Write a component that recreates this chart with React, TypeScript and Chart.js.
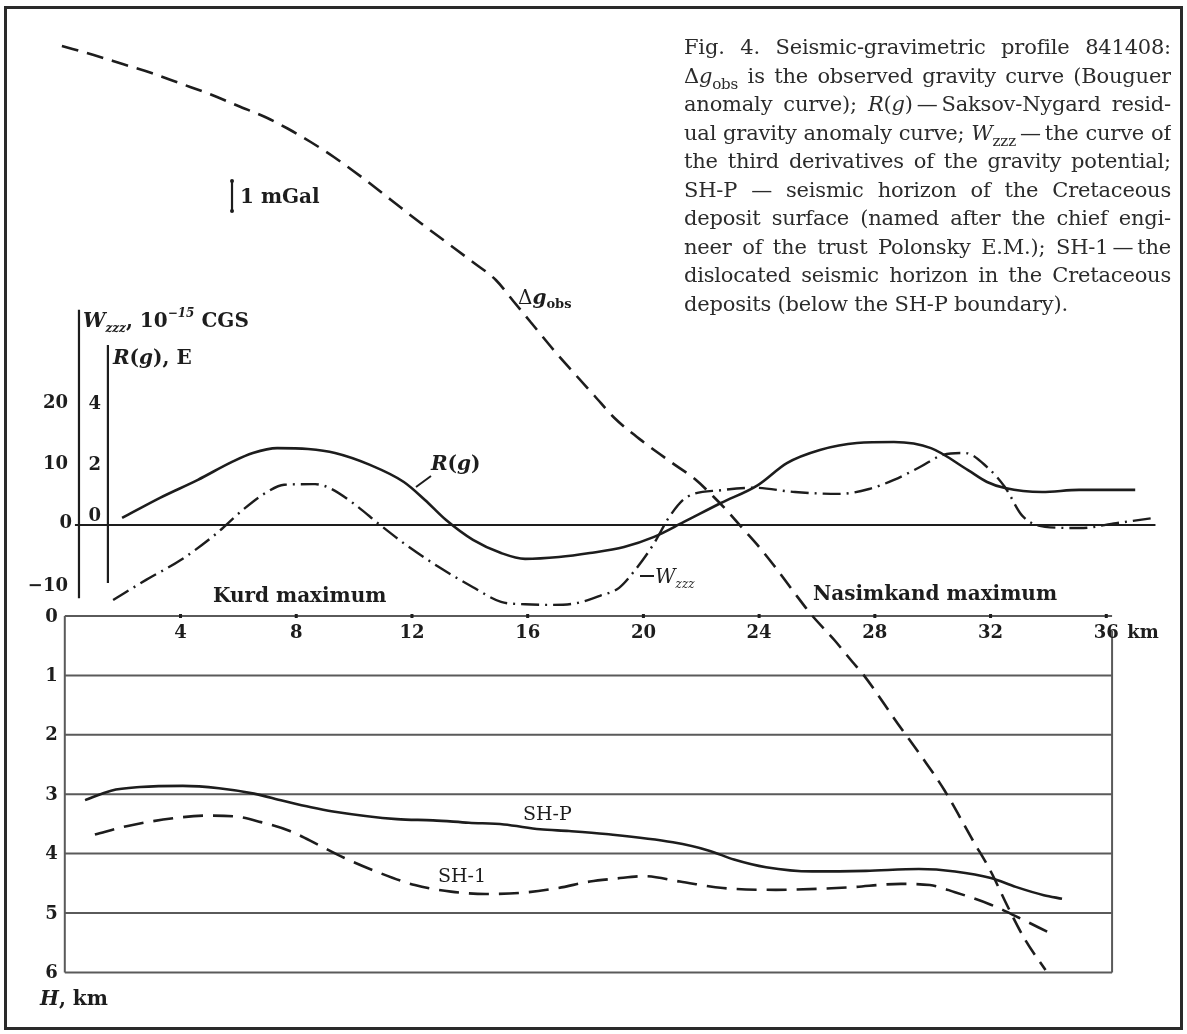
import React, { useEffect, useRef } from "react";
import { Chart, registerables } from "chart.js";

Chart.register(...registerables);

// ---------- DATA ----------
// Observed gravity (Bouguer anomaly), relative mGal
const gKm = [-0.1, 1, 2, 3, 4, 5, 6, 7, 7.7, 8.5, 9.3, 10.3, 11.3, 12.3, 13.2, 14.1, 14.9, 15.5, 16.1, 17, 17.6, 18.3, 19, 20, 21, 21.8, 22.4, 22.9, 23.4, 24, 24.5, 25.2, 25.8, 26.6, 27.2, 27.6, 28.8, 29.7, 30.4, 31.4, 32.0, 32.6, 33.2, 33.9];
const gVal = [31.8, 31.5, 31.2, 30.9, 30.55, 30.2, 29.8, 29.4, 29.05, 28.6, 28.1, 27.4, 26.65, 25.9, 25.25, 24.6, 24.0, 23.3, 22.6, 21.55, 20.9, 20.15, 19.4, 18.6, 17.9, 17.35, 16.8, 16.3, 15.75, 15.1, 14.5, 13.6, 12.85, 12.0, 11.3, 10.85, 9.2, 8.0, 7.0, 5.3, 4.3, 3.1, 2.0, 1.0];

// Saksov-Nygard residual anomaly R(g), E
const rKm = [1.98, 3.29, 4.6, 5.78, 6.5, 7.34, 8.41, 9.34, 10.55, 11.72, 12.45, 13.18, 14.11, 15.08, 15.91, 17.08, 18.15, 19.33, 20.37, 21.4, 22.68, 23.96, 24.96, 26.1, 27.38, 28.66, 29.94, 31.22, 31.88, 32.5, 33.78, 35.06, 37.0];
const rVal = [0.23, 0.89, 1.48, 2.07, 2.36, 2.52, 2.49, 2.36, 1.97, 1.41, 0.82, 0.16, -0.49, -0.92, -1.11, -1.05, -0.92, -0.72, -0.39, 0.1, 0.72, 1.31, 2.03, 2.46, 2.69, 2.72, 2.52, 1.8, 1.41, 1.21, 1.08, 1.15, 1.15];

// Third derivative of gravity potential W_zzz, 10^-15 CGS
const wKm = [1.67, 2.81, 4.02, 5.19, 6.16, 6.99, 7.58, 8.65, 9.13, 9.96, 10.9, 11.72, 12.93, 14.11, 15.08, 15.91, 16.84, 17.7, 18.5, 19.16, 19.71, 20.37, 20.89, 21.51, 22.68, 23.82, 25.24, 26.76, 27.8, 28.66, 29.56, 30.36, 31.12, 31.88, 32.5, 33.1, 33.88, 35.1, 36.34, 37.62];
const wVal = [-12.3, -9.0, -5.7, -1.6, 2.5, 5.4, 6.6, 6.7, 6.1, 3.6, 0, -3.0, -6.9, -10.2, -12.6, -13.0, -13.1, -12.8, -11.6, -10.3, -7.4, -3.0, 1.3, 4.6, 5.7, 6.1, 5.4, 5.1, 5.9, 7.4, 9.5, 11.5, 11.8, 9.5, 6.2, 1.5, -0.3, -0.5, 0.3, 1.15];

// Seismic horizons, depth H, km
const shpKm = [0.7, 1.6, 2.6, 4.08, 5.33, 6.54, 7.54, 8.51, 9.27, 11.48, 12.73, 13.97, 15.18, 16.43, 17.43, 18.7, 21.02, 22.27, 23.13, 24.24, 25.83, 27.69, 29.52, 30.77, 32.01, 32.87, 33.84, 34.47];
const shpDepth = [3.1, 2.94, 2.88, 2.86, 2.9, 2.99, 3.11, 3.22, 3.29, 3.42, 3.44, 3.48, 3.51, 3.59, 3.62, 3.67, 3.81, 3.95, 4.1, 4.23, 4.3, 4.29, 4.26, 4.3, 4.41, 4.56, 4.7, 4.76];
const sh1Km = [1.04, 2.22, 3.84, 4.95, 5.81, 6.78, 7.78, 8.79, 9.65, 10.86, 12.1, 13.35, 14.56, 15.8, 17.05, 18.15, 19.05, 20.02, 21.26, 22.75, 24.58, 27.07, 28.9, 29.9, 30.77, 32.01, 32.98, 33.98];
const sh1Depth = [3.68, 3.53, 3.4, 3.36, 3.37, 3.47, 3.62, 3.86, 4.07, 4.32, 4.53, 4.64, 4.68, 4.66, 4.58, 4.47, 4.42, 4.38, 4.47, 4.58, 4.61, 4.57, 4.51, 4.53, 4.65, 4.86, 5.08, 5.32];

// Tick labels
const kmTicks = [4, 8, 12, 16, 20, 24, 28, 32, 36];
const depthTicks = [0, 1, 2, 3, 4, 5, 6];
const wTicks = [20, 10, 0, -10];
const rTicks = [4, 2, 0];

// ---------- helpers ----------
const INK = "#1d1d1d";
const GRID = "#5a5a5a";
const SERIF = "'DejaVu Serif', serif";
const B20 = `bold 20px ${SERIF}`;
const B18 = `bold 18px ${SERIF}`;
const BI20 = `italic bold 20px ${SERIF}`;

const pts = (xs: number[], ys: number[]) => xs.map((x, i) => ({ x, y: ys[i] }));

type Run = { t: string; f: string; dy?: number };
function drawRuns(ctx: CanvasRenderingContext2D, runs: Run[], x: number, y: number) {
  let cx = x;
  for (const r of runs) {
    ctx.font = r.f;
    ctx.fillText(r.t, cx, y + (r.dy || 0));
    cx += ctx.measureText(r.t).width;
  }
}

const figurePlugin = {
  id: "figureFrame",
  beforeDraw(chart: any) {
    const { ctx, width, height } = chart;
    ctx.save();
    ctx.fillStyle = "#ffffff";
    ctx.fillRect(0, 0, width, height);
    ctx.restore();
  },
  beforeDatasetsDraw(chart: any) {
    const ctx: CanvasRenderingContext2D = chart.ctx;
    const s = chart.scales;
    const X = (v: number) => s.x.getPixelForValue(v);
    const D = (v: number) => s.yDepth.getPixelForValue(v);
    const W = (v: number) => s.yW.getPixelForValue(v);
    const R = (v: number) => s.yR.getPixelForValue(v);
    const G = (v: number) => s.yG.getPixelForValue(v);
    ctx.save();
    // outer figure frame
    ctx.strokeStyle = "#2a2a2a";
    ctx.lineWidth = 3;
    ctx.strokeRect(5.5, 7.5, 1176, 1021);

    // lower section: depth box and grid
    const x0 = X(0), x1 = X(36.2);
    ctx.strokeStyle = GRID;
    ctx.lineWidth = 2;
    ctx.beginPath();
    depthTicks.forEach((d) => {
      ctx.moveTo(x0, D(d));
      ctx.lineTo(x1, D(d));
    });
    ctx.moveTo(x0, D(0));
    ctx.lineTo(x0, D(6));
    ctx.moveTo(x1, D(0.25));
    ctx.lineTo(x1, D(6));
    ctx.stroke();
    // tick marks on km axis
    ctx.strokeStyle = INK;
    ctx.lineWidth = 3;
    ctx.beginPath();
    kmTicks.forEach((k) => {
      ctx.moveTo(X(k), D(0) - 2);
      ctx.lineTo(X(k), D(0) + 2);
    });
    ctx.stroke();

    // upper section: zero line and two vertical axes
    ctx.strokeStyle = INK;
    ctx.lineWidth = 2.2;
    ctx.beginPath();
    ctx.moveTo(X(0.35), W(0));
    ctx.lineTo(X(37.7), W(0));
    ctx.moveTo(X(0.49), W(-12));
    ctx.lineTo(X(0.49), W(35.3));
    ctx.moveTo(X(1.49), R(-1.9));
    ctx.lineTo(X(1.49), R(5.9));
    ctx.stroke();

    // 1 mGal scale bar, drawn on the gravity scale
    const bx = X(5.78);
    ctx.lineWidth = 2.2;
    ctx.beginPath();
    ctx.moveTo(bx, G(26.3));
    ctx.lineTo(bx, G(27.3));
    ctx.stroke();
    ctx.fillStyle = INK;
    [26.3, 27.3].forEach((v) => {
      ctx.beginPath();
      ctx.arc(bx, G(v), 2, 0, Math.PI * 2);
      ctx.fill();
    });

    // leader strokes from labels to curves
    ctx.lineWidth = 2;
    ctx.beginPath();
    ctx.moveTo(416, 487);
    ctx.lineTo(431, 476);
    ctx.moveTo(640, 576);
    ctx.lineTo(654, 576);
    ctx.stroke();
    ctx.restore();
  },
  afterDatasetsDraw(chart: any) {
    const ctx: CanvasRenderingContext2D = chart.ctx;
    const s = chart.scales;
    const X = (v: number) => s.x.getPixelForValue(v);
    const D = (v: number) => s.yDepth.getPixelForValue(v);
    const W = (v: number) => s.yW.getPixelForValue(v);
    const R = (v: number) => s.yR.getPixelForValue(v);
    ctx.save();
    ctx.fillStyle = INK;
    ctx.textBaseline = "middle";

    // W_zzz axis tick labels
    ctx.font = B18;
    ctx.textAlign = "right";
    wTicks.forEach((v) => {
      const lbl = v < 0 ? "\u2212" + Math.abs(v) : String(v);
      ctx.fillText(lbl, X(0.49) - (v === 0 ? 7 : 11), W(v) + (v === 0 ? -2 : 0));
    });
    // R(g) axis tick labels
    rTicks.forEach((v) => {
      ctx.fillText(String(v), X(1.49) - 7, R(v) + (v === 0 ? -9 : 1));
    });
    // depth tick labels
    depthTicks.forEach((v) => {
      ctx.fillText(String(v), X(0) - 7, D(v) + 1);
    });
    // km tick labels
    ctx.textAlign = "center";
    kmTicks.forEach((k) => {
      ctx.fillText(String(k), X(k), D(0) + 17);
    });
    ctx.textAlign = "left";
    ctx.fillText("km", X(36) + 21, D(0) + 17);

    // texts with baselines
    ctx.textBaseline = "alphabetic";
    drawRuns(ctx, [{ t: "1 mGal", f: B20 }], 240, 203);
    drawRuns(ctx, [
      { t: "\u0394", f: `20px ${SERIF}` },
      { t: "g", f: BI20 },
      { t: "obs", f: `bold 13px ${SERIF}`, dy: 4 },
    ], 518, 304);
    drawRuns(ctx, [
      { t: "W", f: BI20 },
      { t: "zzz", f: `italic bold 12px ${SERIF}`, dy: 5 },
      { t: ", 10", f: B20 },
      { t: "\u221215", f: `italic bold 12px ${SERIF}`, dy: -10 },
      { t: " CGS", f: B20 },
    ], 83, 327);
    drawRuns(ctx, [
      { t: "R", f: BI20 },
      { t: "(", f: B20 },
      { t: "g", f: BI20 },
      { t: "), E", f: B20 },
    ], 113, 364);
    drawRuns(ctx, [
      { t: "R", f: BI20 },
      { t: "(", f: B20 },
      { t: "g", f: BI20 },
      { t: ")", f: B20 },
    ], 431, 470);
    drawRuns(ctx, [
      { t: "W", f: `italic 20px ${SERIF}` },
      { t: "zzz", f: `italic 12px ${SERIF}`, dy: 5 },
    ], 655, 583);
    drawRuns(ctx, [{ t: "Kurd maximum", f: B20 }], 213, 602);
    drawRuns(ctx, [{ t: "Nasimkand maximum", f: B20 }], 813, 600);
    drawRuns(ctx, [{ t: "SH-P", f: `19px ${SERIF}` }], 523, 820);
    drawRuns(ctx, [{ t: "SH-1", f: `19px ${SERIF}` }], 438, 882);
    drawRuns(ctx, [
      { t: "H", f: BI20 },
      { t: ", km", f: B20 },
    ], 40, 1005);
    ctx.restore();
  },
};

// ---------- caption ----------
const CAP_LH = 28.55;
const lineStyle: React.CSSProperties = {
  height: CAP_LH,
  lineHeight: `${CAP_LH}px`,
  textAlign: "justify",
  textAlignLast: "justify" as any,
  whiteSpace: "normal",
  overflow: "hidden",
};
const subStyle: React.CSSProperties = { fontSize: "0.72em", verticalAlign: "-0.38em", lineHeight: 0 };

function Caption() {
  return (
    <div
      style={{
        position: "absolute",
        left: 684,
        top: 33,
        width: 487,
        fontFamily: SERIF,
        fontSize: 21,
        letterSpacing: "-0.2px",
        color: "#2b2b2b",
      }}
    >
      <div style={lineStyle}>Fig. 4. Seismic-gravimetric profile 841408:</div>
      <div style={lineStyle}>
        Δ<i>g</i><span style={subStyle}>obs</span> is the observed gravity curve (Bouguer
      </div>
      <div style={lineStyle}>
        anomaly curve); <i>R</i>(<i>g</i>)&thinsp;—&thinsp;Saksov-Nygard resid-
      </div>
      <div style={lineStyle}>
        ual gravity anomaly curve; <i>W</i><span style={subStyle}>zzz</span>&thinsp;—&thinsp;the curve of
      </div>
      <div style={lineStyle}>the third derivatives of the gravity potential;</div>
      <div style={lineStyle}>SH-P — seismic horizon of the Cretaceous</div>
      <div style={lineStyle}>deposit surface (named after the chief engi-</div>
      <div style={lineStyle}>neer of the trust Polonsky E.M.); SH-1&thinsp;—&thinsp;the</div>
      <div style={lineStyle}>dislocated seismic horizon in the Cretaceous</div>
      <div style={{ ...lineStyle, textAlign: "left", textAlignLast: "left" as any }}>
        deposits (below the SH-P boundary).
      </div>
    </div>
  );
}

export default function App() {
  const ref = useRef<HTMLCanvasElement | null>(null);
  useEffect(() => {
    if (!ref.current) return;
    const common = { pointRadius: 0, borderColor: INK, fill: false, cubicInterpolationMode: "monotone" as const };
    const chart = new Chart(ref.current, {
      type: "line",
      data: {
        datasets: [
          { label: "Δg obs", data: pts(gKm, gVal), yAxisID: "yG", borderWidth: 2.6, borderDash: [17, 9], ...common },
          { label: "R(g)", data: pts(rKm, rVal), yAxisID: "yR", borderWidth: 2.6, ...common },
          { label: "W zzz", data: pts(wKm, wVal), yAxisID: "yW", borderWidth: 2.4, borderDash: [18, 6, 2, 6], ...common },
          { label: "SH-P", data: pts(shpKm, shpDepth), yAxisID: "yDepth", borderWidth: 2.6, ...common },
          { label: "SH-1", data: pts(sh1Km, sh1Depth), yAxisID: "yDepth", borderWidth: 2.6, borderDash: [20, 10], ...common },
        ],
      },
      options: {
        animation: false,
        responsive: false,
        events: [],
        layout: { padding: 0 },
        plugins: { legend: { display: false }, tooltip: { enabled: false } },
        scales: {
          x: { type: "linear", axis: "x", min: -2.2399, max: 38.79, display: false },
          yG: { type: "linear", axis: "y", min: -1.1333, max: 33.3333, display: false },
          yW: { type: "linear", axis: "y", min: -83.443, max: 86.066, display: false },
          yR: { type: "linear", axis: "y", min: -16.689, max: 17.213, display: false },
          yDepth: { type: "linear", axis: "y", min: -10.3704, max: 7.037, reverse: true, display: false },
        },
      },
      plugins: [figurePlugin],
    });
    return () => chart.destroy();
  }, []);

  return (
    <div style={{ position: "absolute", left: 0, top: 0, width: 1187, height: 1034, background: "#fff" }}>
      <canvas ref={ref} width={1187} height={1034} style={{ position: "absolute", left: 0, top: 0 }} />
      <Caption />
    </div>
  );
}
